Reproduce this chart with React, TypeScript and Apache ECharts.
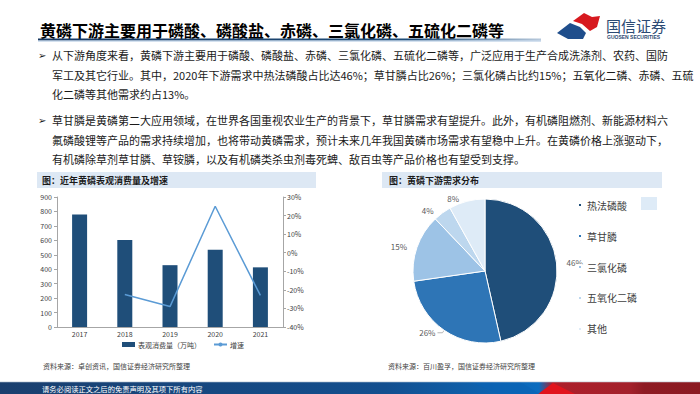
import React, { useEffect, useRef } from "react";
import * as echarts from "echarts";

const years = ["2017", "2018", "2019", "2020", "2021"];
const consumption = [778, 603, 428, 535, 413];
const growth: (number | null)[] = [null, -22.5, -29, 25, -23];
const pieNames = ["热法磷酸", "草甘膦", "三氯化磷", "五氧化二磷", "其他"];
const pieValues = [46, 26, 15, 4, 8];
const pieColors = ["#1f4e79", "#2e75b6", "#9dc3e6", "#bdd7ee", "#deebf7"];

const pageTitle = "黄磷下游主要用于磷酸、磷酸盐、赤磷、三氯化磷、五硫化二磷等";
const para1 = [
  "从下游角度来看，黄磷下游主要用于磷酸、磷酸盐、赤磷、三氯化磷、五硫化二磷等，广泛应用于生产合成洗涤剂、农药、国防",
  "军工及其它行业。其中，2020年下游需求中热法磷酸占比达46%；草甘膦占比26%；三氯化磷占比约15%；五氧化二磷、赤磷、五硫",
  "化二磷等其他需求约占13%。",
];
const para2 = [
  "草甘膦是黄磷第二大应用领域，在世界各国重视农业生产的背景下，草甘膦需求有望提升。此外，有机磷阻燃剂、新能源材料六",
  "氟磷酸锂等产品的需求持续增加，也将带动黄磷需求，预计未来几年我国黄磷市场需求有望稳中上升。在黄磷价格上涨驱动下，",
  "有机磷除草剂草甘膦、草铵膦，以及有机磷类杀虫剂毒死蜱、敌百虫等产品价格也有望受到支撑。",
];
const leftTitle = "图：近年黄磷表观消费量及增速";
const rightTitle = "图：黄磷下游需求分布";
const leftSource = "资料来源：卓创资讯，国信证券经济研究所整理";
const rightSource = "资料来源：百川盈孚，国信证券经济研究所整理";
const footerText = "请务必阅读正文之后的免责声明及其项下所有内容";

const FONT = "'Noto Sans CJK SC', 'Noto Sans', sans-serif";

export default function App() {
  const ref = useRef<HTMLDivElement>(null);
  useEffect(() => {
    document.body.style.margin = "0";
    const chart = echarts.init(ref.current!, null, { renderer: "svg" });
    const paraLines: any[] = [];
    const p1y = [55, 74.5, 94];
    const p2y = [120, 139.5, 159];
    para1.forEach((t, i) =>
      paraLines.push({
        type: "text",
        x: 52,
        y: p1y[i],
        style: { text: t, fontSize: 11, fill: "#1a1a1a", fontFamily: FONT, verticalAlign: "middle" },
      })
    );
    para2.forEach((t, i) =>
      paraLines.push({
        type: "text",
        x: 52,
        y: p2y[i],
        style: { text: t, fontSize: 11, fill: "#1a1a1a", fontFamily: FONT, verticalAlign: "middle" },
      })
    );
    [p1y[0], p2y[0]].forEach((y) =>
      paraLines.push({
        type: "text",
        x: 38,
        y,
        style: { text: "➢", fontSize: 10, fill: "#1a1a1a", fontFamily: "DejaVu Sans", verticalAlign: "middle" },
      })
    );

    const option: any = {
      animation: false,
      backgroundColor: "#ffffff",
      textStyle: { fontFamily: FONT },
      grid: { left: 57, right: 417, top: 197, bottom: 67 },
      xAxis: {
        type: "category",
        data: years,
        axisLine: { lineStyle: { color: "#a6a6a6" } },
        axisTick: { length: 3, lineStyle: { color: "#a6a6a6" } },
        axisLabel: { fontSize: 7, color: "#404040", margin: 3 },
      },
      yAxis: [
        {
          type: "value",
          min: 0,
          max: 900,
          interval: 100,
          splitLine: { show: false },
          axisLine: { show: true, lineStyle: { color: "#a6a6a6" } },
          axisTick: { show: true, length: 3, lineStyle: { color: "#a6a6a6" } },
          axisLabel: { fontSize: 7, color: "#404040", margin: 5 },
        },
        {
          type: "value",
          min: -40,
          max: 30,
          interval: 10,
          splitLine: { show: false },
          axisLine: { show: true, lineStyle: { color: "#a6a6a6" } },
          axisTick: { show: true, length: 3, lineStyle: { color: "#a6a6a6" } },
          axisLabel: { fontSize: 7, color: "#404040", margin: 4, formatter: "{value}%" },
        },
      ],
      legend: [
        {
          data: [
            { name: "表观消费量（万吨）", icon: "rect" },
            { name: "增速" },
          ],
          left: 122,
          top: 341,
          itemWidth: 13,
          itemHeight: 5,
          itemGap: 12,
          textStyle: { fontSize: 7, color: "#404040", padding: [0, 0, 0, -2] },
          padding: 0,
        },
        {
          data: pieNames,
          orient: "vertical",
          left: 577,
          top: 200,
          icon: "rect",
          itemWidth: 4,
          itemHeight: 4,
          itemGap: 21,
          textStyle: { fontSize: 10, color: "#404040" },
          padding: 0,
        },
      ],
      series: [
        {
          name: "表观消费量（万吨）",
          type: "bar",
          data: consumption,
          barWidth: 15,
          itemStyle: { color: "#1f4e79" },
        },
        {
          name: "增速",
          type: "line",
          yAxisIndex: 1,
          data: growth,
          symbol: "none",
          lineStyle: { color: "#5b9bd5", width: 1.5 },
          itemStyle: { color: "#5b9bd5" },
        },
        {
          type: "pie",
          center: [485, 271],
          radius: 72,
          startAngle: 90,
          clockwise: true,
          data: pieNames.map((n, i) => ({
            name: n,
            value: pieValues[i],
            itemStyle: { color: pieColors[i] },
            labelLine: { show: i === 1 },
          })),
          itemStyle: { borderColor: "#ffffff", borderWidth: 1 },
          label: {
            show: true,
            position: "outside",
            formatter: "{c}%",
            fontSize: 8,
            color: "#595959",
            distanceToLabelLine: 2,
          },
          labelLine: { show: false, length: 3, length2: 5, lineStyle: { color: "#a6a6a6", width: 0.8 } },
        },
      ],
      graphic: [
        {
          type: "text",
          x: 40,
          y: 30,
          style: { text: pageTitle, fontSize: 16, fontWeight: "bold", fill: "#000000", fontFamily: FONT, verticalAlign: "middle" },
        },
        {
          type: "rect",
          shape: { x: 38, y: 38.5, width: 503, height: 2 },
          style: {
            fill: new echarts.graphic.LinearGradient(0, 0, 1, 0, [
              { offset: 0, color: "#16365f" },
              { offset: 0.75, color: "#1f4e79" },
              { offset: 1, color: "#b7c9dc" },
            ]),
          },
        },
        {
          type: "rect",
          shape: { x: 38, y: 40.5, width: 503, height: 1 },
          style: { fill: "#a9c4e0" },
        },
        {
          type: "polygon",
          shape: { points: [[557, 33], [570, 23], [580, 27], [586, 33], [583, 39], [568, 39]] },
          style: { fill: "#1f4e8c" },
        },
        {
          type: "polygon",
          shape: { points: [[573, 21], [584, 13], [592, 17], [600, 16], [597, 27], [590, 31], [582, 24]] },
          style: { fill: "#d7191f" },
        },
        {
          type: "text",
          x: 606,
          y: 25,
          style: { text: "国信证券", fontSize: 15, fill: "#2b4a73", fontFamily: FONT, verticalAlign: "middle" },
        },
        {
          type: "text",
          x: 607,
          y: 37,
          style: { text: "GUOSEN SECURITIES", fontSize: 5, fontWeight: "bold", fill: "#2b4a73", fontFamily: "Liberation Sans", verticalAlign: "middle" },
        },
        ...paraLines,
        { type: "rect", shape: { x: 37, y: 172, width: 279, height: 16 }, style: { fill: "#dde8f4" } },
        {
          type: "text",
          x: 42,
          y: 180,
          style: { text: leftTitle, fontSize: 9, fontWeight: "bold", fill: "#1a1a1a", fontFamily: FONT, verticalAlign: "middle" },
        },
        { type: "rect", shape: { x: 382, y: 172, width: 280, height: 16 }, style: { fill: "#dde8f4" } },
        {
          type: "text",
          x: 389,
          y: 180,
          style: { text: rightTitle, fontSize: 9, fontWeight: "bold", fill: "#1a1a1a", fontFamily: FONT, verticalAlign: "middle" },
        },
        { type: "rect", shape: { x: 641, y: 197, width: 16, height: 13 }, style: { fill: "#deebf7" } },
        {
          type: "text",
          x: 43,
          y: 366,
          style: { text: leftSource, fontSize: 7, fill: "#404040", fontFamily: FONT, verticalAlign: "middle" },
        },
        {
          type: "text",
          x: 388,
          y: 366,
          style: { text: rightSource, fontSize: 7, fill: "#404040", fontFamily: FONT, verticalAlign: "middle" },
        },
        {
          type: "rect",
          shape: { x: 0, y: 382, width: 700, height: 12 },
          style: {
            fill: new echarts.graphic.LinearGradient(0, 0, 1, 0, [
              { offset: 0, color: "#1a3f6e" },
              { offset: 0.55, color: "#134f8f" },
              { offset: 0.77, color: "#0b6cbf" },
              { offset: 0.79, color: "#ad1f2b" },
              { offset: 0.9, color: "#a3212c" },
              { offset: 0.92, color: "#8e1b24" },
              { offset: 1, color: "#8b1a22" },
            ]),
          },
        },
        {
          type: "polygon",
          shape: { points: [[538, 394], [553, 383], [575, 394]] },
          style: { fill: "#e1141d" },
        },
        {
          type: "polygon",
          shape: { points: [[470, 382], [520, 382], [540, 394], [500, 394]] },
          style: { fill: "#0a63b4", opacity: 0.6 },
        },
        { type: "rect", shape: { x: 0, y: 381.5, width: 700, height: 0.8 }, style: { fill: "#c9d3de" } },
        {
          type: "text",
          x: 42,
          y: 388.5,
          style: { text: footerText, fontSize: 7.3, fill: "#ffffff", fontFamily: FONT, verticalAlign: "middle" },
        },
      ],
    };
    chart.setOption(option);
    return () => chart.dispose();
  }, []);
  return <div ref={ref} style={{ position: "fixed", left: 0, top: 0, width: 700, height: 394 }} />;
}
